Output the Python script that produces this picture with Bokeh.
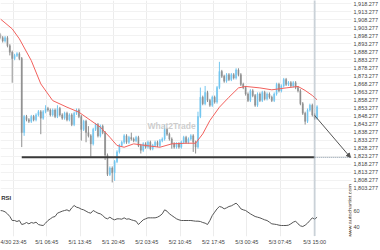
import math
from bokeh.plotting import figure
from bokeh.models import (Range1d, FixedTicker, NumeralTickFormatter, Span, Label,
                          Arrow, NormalHead, ColumnDataSource)
from bokeh.embed import file_html
from bokeh.resources import INLINE

# ---------------- data (hours since 4/30 00:00, 30-minute bars) ----------------
bar_start = 21.0
bar_step = 0.5

opens = [1899, 1897, 1895, 1897, 1892, 1888, 1884, 1886, 1887, 1884,
         1838, 1848, 1846, 1845, 1848, 1846, 1849, 1851, 1847, 1851,
         1853, 1852, 1849, 1852, 1848, 1853, 1849, 1847, 1850, 1846,
         1849, 1843, 1850, 1852, 1848, 1840, 1845, 1838, 1836, 1831,
         1840, 1843, 1836, 1842, 1838, 1824, 1812, 1816, 1813, 1820,
         1826, 1830, 1832, 1836, 1832, 1835, 1834, 1833, 1835, 1830,
         1827, 1831, 1829, 1832, 1828, 1830, 1832, 1830, 1833, 1834,
         1840, 1837, 1834, 1831, 1829, 1831, 1829, 1832, 1835, 1832,
         1834, 1836, 1832, 1829, 1848, 1860, 1856, 1863, 1858, 1855,
         1860, 1857, 1866, 1876, 1873, 1870, 1874, 1871, 1874, 1872,
         1877, 1874, 1868, 1866, 1862, 1858, 1864, 1861, 1855, 1862,
         1858, 1863, 1859, 1862, 1860, 1858, 1862, 1868, 1864, 1867,
         1871, 1868, 1869, 1867, 1869, 1866, 1864, 1856, 1850, 1845,
         1852, 1855, 1849, 1847]

closes = [1897, 1895, 1897, 1892, 1888, 1884, 1886, 1887, 1884, 1838,
          1848, 1846, 1845, 1848, 1846, 1849, 1851, 1847, 1851, 1853,
          1852, 1849, 1852, 1848, 1853, 1849, 1847, 1850, 1846, 1849,
          1843, 1850, 1852, 1848, 1840, 1845, 1838, 1836, 1831, 1840,
          1843, 1836, 1842, 1838, 1824, 1812, 1816, 1813, 1820, 1826,
          1830, 1832, 1836, 1832, 1835, 1834, 1833, 1835, 1830, 1827,
          1831, 1829, 1832, 1828, 1830, 1832, 1830, 1833, 1834, 1840,
          1837, 1834, 1831, 1829, 1831, 1829, 1832, 1835, 1832, 1834,
          1836, 1832, 1829, 1848, 1860, 1856, 1863, 1858, 1855, 1860,
          1857, 1866, 1876, 1873, 1870, 1874, 1871, 1874, 1872, 1877,
          1874, 1868, 1866, 1862, 1858, 1864, 1861, 1855, 1862, 1858,
          1863, 1859, 1862, 1860, 1858, 1862, 1868, 1864, 1867, 1871,
          1868, 1869, 1867, 1869, 1866, 1864, 1856, 1850, 1845, 1852,
          1855, 1849, 1847, 1854]

highs = [1900, 1898, 1898, 1898, 1893, 1889, 1887, 1888, 1888, 1885,
         1849, 1849, 1847, 1849, 1849, 1850, 1852, 1852, 1852, 1855,
         1854, 1853, 1853, 1853, 1855, 1854, 1850, 1851, 1851, 1850,
         1850, 1851, 1853, 1853, 1849, 1846, 1846, 1842, 1837, 1841,
         1844, 1844, 1843, 1843, 1839, 1825, 1817, 1817, 1821, 1827,
         1831, 1833, 1837, 1837, 1836, 1838, 1835, 1836, 1836, 1831,
         1832, 1832, 1833, 1833, 1831, 1833, 1833, 1834, 1835, 1843,
         1841, 1838, 1835, 1832, 1832, 1832, 1833, 1836, 1836, 1835,
         1837, 1837, 1833, 1851, 1866, 1861, 1867, 1864, 1859, 1861,
         1861, 1867, 1882, 1877, 1874, 1875, 1875, 1875, 1875, 1878,
         1878, 1875, 1869, 1867, 1863, 1865, 1865, 1862, 1863, 1863,
         1864, 1864, 1863, 1863, 1861, 1863, 1869, 1869, 1868, 1872,
         1872, 1870, 1870, 1870, 1870, 1867, 1865, 1857, 1851, 1853,
         1856, 1856, 1850, 1855]

lows = [1896, 1894, 1894, 1891, 1886, 1869, 1883, 1885, 1883, 1829,
        1836, 1845, 1844, 1844, 1845, 1845, 1848, 1837, 1846, 1850,
        1851, 1848, 1848, 1847, 1847, 1848, 1846, 1846, 1845, 1845,
        1842, 1842, 1849, 1847, 1833, 1839, 1832, 1835, 1823, 1830,
        1839, 1835, 1835, 1837, 1821, 1811, 1811, 1807, 1808, 1819,
        1825, 1829, 1831, 1831, 1831, 1833, 1832, 1832, 1829, 1825,
        1826, 1828, 1828, 1827, 1827, 1829, 1829, 1829, 1832, 1833,
        1836, 1833, 1828, 1828, 1828, 1828, 1828, 1831, 1831, 1831,
        1833, 1826, 1825, 1828, 1847, 1855, 1855, 1857, 1854, 1854,
        1856, 1856, 1865, 1872, 1869, 1869, 1870, 1870, 1871, 1871,
        1873, 1867, 1865, 1861, 1857, 1857, 1860, 1854, 1854, 1857,
        1857, 1858, 1858, 1859, 1857, 1857, 1861, 1863, 1863, 1866,
        1867, 1867, 1866, 1866, 1865, 1863, 1855, 1849, 1843, 1844,
        1851, 1848, 1846, 1846]

rsi = [60.0, 59.6, 58.4, 56.0, 52.8, 48.0, 48.0, 46.8, 48.0, 43.2,
       44.0, 45.6, 44.0, 45.6, 44.8, 46.0, 43.2, 42.4, 42.0, 44.8,
       48.0, 50.0, 52.0, 52.8, 56.8, 58.0, 59.2, 60.0, 60.8, 59.2,
       63.2, 66.0, 64.0, 63.2, 61.6, 60.8, 59.2, 57.6, 56.8, 60.0,
       58.4, 56.8, 56.0, 54.0, 51.2, 50.0, 52.0, 50.0, 48.8, 50.0,
       50.0, 49.6, 51.2, 49.6, 50.0, 48.8, 48.0, 47.2, 43.2, 46.0,
       48.8, 50.0, 51.2, 51.2, 51.2, 51.2, 52.0, 53.6, 56.0, 60.8,
       59.2, 56.0, 54.0, 52.0, 50.0, 48.8, 48.0, 48.0, 48.0, 48.0,
       48.0, 47.6, 47.2, 47.2, 46.8, 45.6, 44.8, 43.2, 48.0, 54.0,
       58.0, 62.0, 64.8, 64.0, 62.0, 63.2, 64.8, 65.6, 67.2, 68.8,
       66.0, 62.0, 60.8, 60.0, 58.0, 56.0, 54.4, 52.8, 52.0, 51.2,
       50.0, 48.8, 48.0, 46.0, 44.0, 43.6, 43.2, 42.4, 42.0, 42.0,
       42.0, 42.4, 44.0, 46.0, 47.2, 44.0, 41.6, 40.8, 42.4, 44.8,
       48.0, 51.2, 49.6, 52.0]

ma_time = [21.0, 23.5, 25.0, 27.5, 29.5, 32.0, 35.0, 37.5, 40.0, 42.0, 44.0,
           45.5, 47.0, 49.0, 51.5, 54.5, 57.0, 60.0, 62.0, 63.5, 65.0, 67.0,
           69.0, 71.0, 72.5, 75.5, 78.0, 81.0, 83.5, 85.0, 86.5, 87.5]
ma_value = [1908.7, 1902.5, 1896.3, 1882.8, 1868.3, 1857.9, 1853.8, 1850.7,
            1845.5, 1841.4, 1835.1, 1830.0, 1828.9, 1831.0, 1830.0, 1828.9,
            1831.0, 1831.4, 1831.4, 1837.2, 1845.5, 1853.8, 1860.0, 1865.8,
            1866.7, 1865.8, 1864.6, 1865.8, 1866.7, 1864.2, 1861.1, 1858.4]

support_level = 1822.6
support_start = 25.5
now_time = 87.0
forecast_start = 1848.6
forecast_end_time = 94.5

x_ticks = [23.75, 30.75, 37.75, 44.75, 51.75, 58.75, 65.75, 72.75, 79.75, 87.0]
x_labels = ["4/30 23:45", "5/1 06:45", "5/1 13:45", "5/1 20:45", "5/2 03:45",
            "5/2 10:45", "5/2 17:45", "5/3 00:45", "5/3 07:45", "5/3 15:00"]

price_ticks = [1803.277, 1808.277, 1813.277, 1818.277, 1823.277, 1828.277,
               1833.277, 1838.277, 1843.277, 1848.277, 1853.277, 1858.277,
               1863.277, 1868.277, 1873.277, 1878.277, 1883.277, 1888.277,
               1893.277, 1898.277, 1903.277, 1908.277, 1913.277, 1918.277]
rsi_ticks = [40, 60]
rsi_labels = ["40", "60"]

# ---------------- figure ----------------
FONT = "Liberation Sans"
x0, x1 = 21.04, 94.73
py0, py1 = 1773.4, 1920.14
ry0, ry1 = 28.8, 312.1

p = figure(width=380, height=250, output_backend="svg", toolbar_location=None,
           x_range=Range1d(x0, x1), y_range=Range1d(py0, py1),
           y_axis_location="right",
           min_border_left=0, min_border_top=0, min_border_right=27,
           min_border_bottom=14)
p.extra_y_ranges = {"rsi": Range1d(ry0, ry1)}
p.outline_line_color = None
p.background_fill_color = "white"
p.border_fill_color = "white"

# grids
p.xgrid.ticker = FixedTicker(ticks=x_ticks)
p.ygrid.ticker = FixedTicker(ticks=price_ticks)
p.xgrid.grid_line_color = "#ececec"
p.ygrid.grid_line_color = "#f2f2f2"

# candles
times = [bar_start + bar_step * i for i in range(len(closes))]
src = ColumnDataSource(dict(
    t=times, high=highs, low=lows,
    top=[max(o, c) for o, c in zip(opens, closes)],
    bottom=[min(o, c) for o, c in zip(opens, closes)],
    color=["#74c7f0" if c >= o else "#8f8f8f" for o, c in zip(opens, closes)],
))
p.segment(x0="t", y0="low", x1="t", y1="high", line_color="color", line_width=1, source=src)
p.vbar(x="t", width=0.22, top="top", bottom="bottom", fill_color="color",
       line_color="color", line_width=0.5, source=src)

# moving average
p.line(ma_time, ma_value, line_color="#f2605c", line_width=1)

# support level and forecast
p.segment(x0=[support_start], y0=[support_level], x1=[now_time], y1=[support_level],
          line_color="#3a3a3a", line_width=2)
p.segment(x0=[now_time], y0=[support_level], x1=[x1], y1=[support_level],
          line_color="#7d8d9c", line_width=1, line_dash="1 1")
p.add_layout(Span(location=now_time, dimension="height", line_color="#a8b5c2",
                  line_width=2, line_dash="1 1"))
p.add_layout(Arrow(end=NormalHead(size=4, fill_color="#555555", line_color="#555555"),
                   x_start=now_time, y_start=forecast_start,
                   x_end=forecast_end_time, y_end=support_level,
                   line_color="#555555", line_width=1))

# RSI
p.line(times, rsi, y_range_name="rsi", line_color="#555555", line_width=1)

# axes
p.xaxis.ticker = FixedTicker(ticks=x_ticks)
p.xaxis.major_label_overrides = dict(zip(x_ticks, x_labels))
rsi_tick_pos = [py0 + (v - ry0) * (py1 - py0) / (ry1 - ry0) for v in rsi_ticks]
p.yaxis.ticker = FixedTicker(ticks=price_ticks + rsi_tick_pos)
p.yaxis.formatter = NumeralTickFormatter(format="0,0.000")
p.yaxis.major_label_overrides = dict(zip(rsi_tick_pos, rsi_labels))
for ax in (p.xaxis, p.yaxis):
    ax.axis_line_color = None
    ax.major_tick_line_color = None
    ax.minor_tick_line_color = None
    ax.major_tick_out = 0
    ax.major_tick_in = 0
    ax.minor_tick_out = 0
    ax.minor_tick_in = 0
    ax.major_label_text_font = FONT
    ax.major_label_text_font_size = "5.5px"
    ax.major_label_text_color = "#444444"
p.xaxis.major_label_standoff = 2
p.yaxis.major_label_standoff = 2

# texts
p.add_layout(Label(x=21.2, y=75.6, y_range_name="rsi", text="RSI",
                   text_font=FONT, text_font_size="6px", text_font_style="bold",
                   text_color="#333333", text_baseline="middle"))
p.add_layout(Label(x=56.95, y=1841.8, text="What2Trade", text_align="center",
                   text_baseline="middle", text_font=FONT, text_font_size="8.5px",
                   text_font_style="bold", text_color="#c4c4c4", text_alpha=0.85))
p.add_layout(Label(x=94.32, y=1789.5, text="www.autochartist.com", angle=math.pi / 2,
                   text_align="center", text_baseline="middle", text_font=FONT,
                   text_font_size="5.5px", text_color="#333333"))

open("out.html", "w").write(file_html(p, INLINE))
